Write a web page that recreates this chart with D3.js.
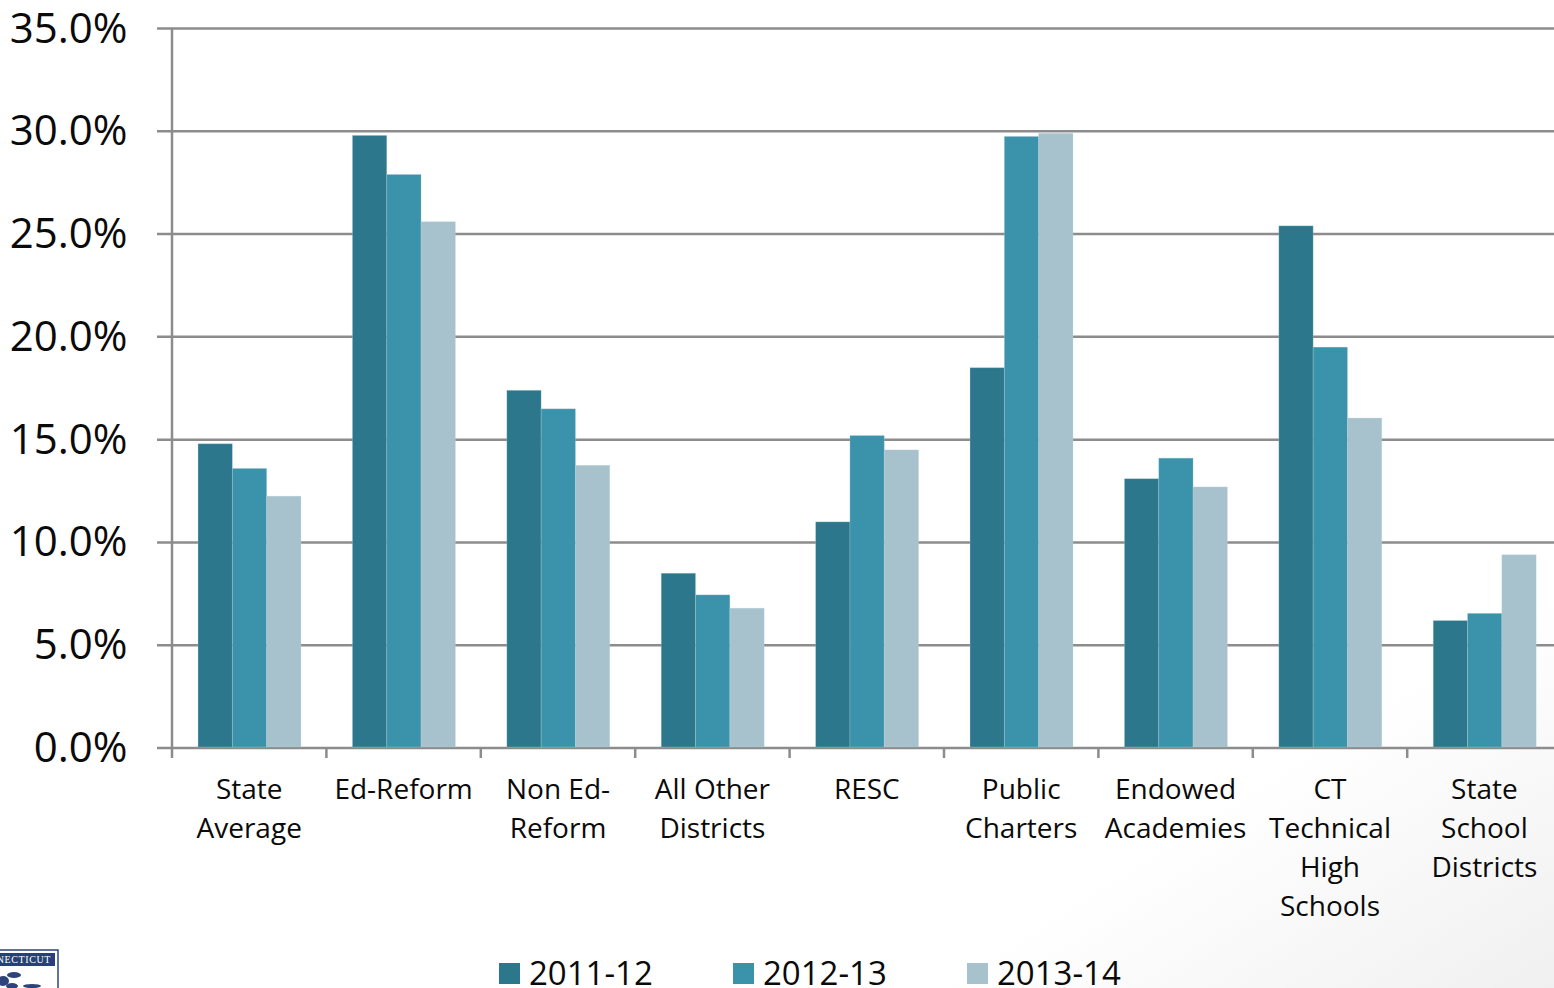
<!DOCTYPE html>
<html><head><meta charset="utf-8">
<script src="https://cdn.jsdelivr.net/npm/d3@7/dist/d3.min.js"></script>
<style>html,body{margin:0;padding:0;background:#fff;overflow:hidden}svg{display:block}text{font-family:"Open Sans",sans-serif;fill:#0a0a0a}</style>
</head><body><svg id="c" width="1554" height="988"></svg>
<script>
const categories=[["State","Average"],["Ed-Reform"],["Non Ed-","Reform"],["All Other","Districts"],["RESC"],["Public","Charters"],["Endowed","Academies"],["CT","Technical","High","Schools"],["State","School","Districts"]];
const seriesNames=["2011-12","2012-13","2013-14"];
const v2011=[14.8,29.8,17.4,8.5,11.0,18.5,13.1,25.4,6.2];
const v2012=[13.6,27.9,16.5,7.45,15.2,29.75,14.1,19.5,6.55];
const v2013=[12.25,25.6,13.75,6.8,14.5,29.9,12.7,16.05,9.4];
const colors=["#2c778c","#3a93aa","#a7c2cd"];
const yTicks=[0,5,10,15,20,25,30,35];
const series=[v2011,v2012,v2013];
const svg=d3.select("#c");
const defs=svg.append("defs");
const g=defs.append("linearGradient").attr("id","bg").attr("x1","0").attr("y1","0").attr("x2","1").attr("y2","1");
g.append("stop").attr("offset","0.8").attr("stop-color","#fff");
g.append("stop").attr("offset","1").attr("stop-color","#f0f0f0");
svg.append("rect").attr("width",1554).attr("height",988).attr("fill","url(#bg)");
const y=d3.scaleLinear().domain([0,35]).range([748,28.5]);
const x=d3.scaleBand().domain(d3.range(9)).range([172,1561.6]);
const xi=d3.scaleBand().domain(d3.range(3)).range([0,x.bandwidth()]).paddingInner(0).paddingOuter(0.75);
const axisCol="#8c8c8c";
svg.append("g").selectAll("line").data(yTicks).join("line")
 .attr("x1",157).attr("x2",1554).attr("y1",d=>y(d)).attr("y2",d=>y(d)).attr("stroke",axisCol).attr("stroke-width",2.5);
svg.append("line").attr("x1",172).attr("x2",172).attr("y1",y(35)).attr("y2",y(0)).attr("stroke",axisCol).attr("stroke-width",2.5);
svg.append("g").selectAll("line").data(d3.range(10)).join("line")
 .attr("x1",d=>172+d*x.step()).attr("x2",d=>172+d*x.step()).attr("y1",y(0)).attr("y2",y(0)+10).attr("stroke",axisCol).attr("stroke-width",2.5);
series.forEach((s,i)=>{
 svg.append("g").selectAll("rect").data(s).join("rect")
  .attr("x",(d,j)=>x(j)+xi(i)+0.3).attr("width",xi.bandwidth())
  .attr("y",d=>y(d)).attr("height",d=>y(0)-y(d)-1)
  .attr("fill",colors[i]).attr("stroke","#b9d3da").attr("stroke-opacity",0.35).attr("stroke-width",0.8);
});
svg.append("g").selectAll("text").data(yTicks).join("text")
 .attr("x",127.5).attr("y",d=>y(d)+14).attr("text-anchor","end").attr("font-size",42)
 .text(d=>d.toFixed(1)+"%");
categories.forEach((lines,j)=>{
 lines.forEach((t,k)=>{
  svg.append("text").attr("x",x(j)+x.bandwidth()/2).attr("y",799+k*39).attr("text-anchor","middle").attr("font-size",28).text(t);
 });
});
const legX=[499,733,967];
seriesNames.forEach((n,i)=>{
 svg.append("rect").attr("x",legX[i]).attr("y",963).attr("width",21).attr("height",21).attr("fill",colors[i]);
 svg.append("text").attr("x",legX[i]+30).attr("y",985).attr("font-size",33).text(n);
});
const logo=svg.append("g");
logo.append("rect").attr("x",-4).attr("y",950).attr("width",62).attr("height",44).attr("fill","#fff").attr("stroke","#2c4479").attr("stroke-width",1.5);
logo.append("rect").attr("x",-4).attr("y",953).attr("width",59).attr("height",13).attr("fill","#27407a");
logo.append("text").attr("x",51).attr("y",963).attr("text-anchor","end").attr("font-size",10).attr("letter-spacing",0.6).attr("style","font-family:'Liberation Serif';fill:#fff").text("CONNECTICUT");
const blobs=[[14,975,7,3],[3,981,6,5],[12,986,6,3],[32,986,9,2]];
logo.selectAll("ellipse").data(blobs).join("ellipse").attr("cx",d=>d[0]).attr("cy",d=>d[1]).attr("rx",d=>d[2]).attr("ry",d=>d[3]).attr("fill","#2c4479");
</script></body></html>
